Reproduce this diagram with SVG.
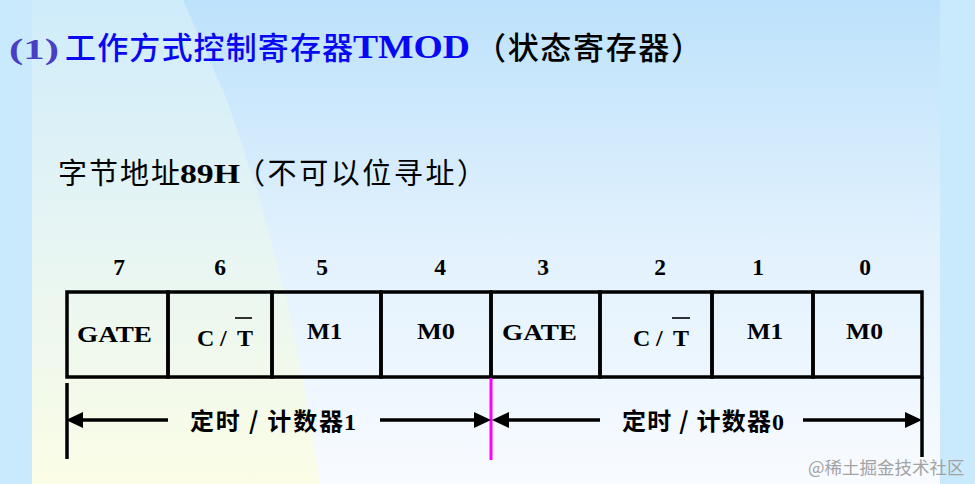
<svg xmlns="http://www.w3.org/2000/svg" width="975" height="484" viewBox="0 0 975 484">
  <style>
    .cjk { font-family: "Noto Sans CJK SC", "Noto Sans", sans-serif; }
    .ser { font-family: "Liberation Serif", "Noto Sans CJK SC", serif; font-weight: bold; }
    .cell { fill: none; stroke: #000; stroke-width: 3.5; }
    .lbl { font-family: "Liberation Serif", serif; font-weight: bold; font-size: 24px; fill: #000; }
    .bit { font-family: "Liberation Serif", serif; font-weight: bold; font-size: 23.5px; fill: #000; text-anchor: middle; }
    .arr { stroke: #000; stroke-width: 3.5; fill: none; }
    .bar { stroke: #000; stroke-width: 3.5; }
    .ov { stroke: #000; stroke-width: 1.6; }
    .al { font-family: "Noto Sans CJK SC", sans-serif; font-weight: bold; font-size: 24px; fill: #000; }
  </style>
  <defs>
    <linearGradient id="gL" x1="0" y1="0" x2="0" y2="1">
      <stop offset="0" stop-color="#cfecfb"/>
      <stop offset="0.5" stop-color="#e7f5f3"/>
      <stop offset="1" stop-color="#fbfde6"/>
    </linearGradient>
    <linearGradient id="gR" x1="0" y1="0" x2="0" y2="1">
      <stop offset="0" stop-color="#bde2fb"/>
      <stop offset="0.5" stop-color="#e1f1fd"/>
      <stop offset="1" stop-color="#f8fbff"/>
    </linearGradient>
    <marker id="ah" markerUnits="userSpaceOnUse" markerWidth="18" markerHeight="17" refX="0" refY="8" orient="auto">
      <path d="M0,0 L17,8 L0,16 z" fill="#000"/>
    </marker>
  </defs>

  <!-- background -->
  <rect x="0" y="0" width="975" height="484" fill="#c9eafd"/>
  <rect x="32" y="0" width="908" height="484" fill="url(#gR)"/>
  <polygon points="32,0 183,0 227,100 260,200 287,300 307,400 320,484 32,484" fill="url(#gL)"/>

  <!-- title -->
  <g id="title">
    <text x="9" y="59" class="ser" font-size="30" fill="#4a3fc4" textLength="50" lengthAdjust="spacingAndGlyphs">(1)</text>
    <text x="65" y="59" class="cjk" font-size="31" font-weight="500" fill="#0808f2" textLength="288" lengthAdjust="spacing">工作方式控制寄存器</text>
    <text x="353" y="58" class="ser" font-size="34" fill="#0808f2" textLength="117" lengthAdjust="spacingAndGlyphs">TMOD</text>
    <text x="475" y="59" class="cjk" font-size="31" font-weight="500" fill="#000" textLength="227" lengthAdjust="spacing">（状态寄存器）</text>
  </g>

  <!-- subtitle -->
  <g id="subtitle">
    <text x="58" y="184" class="cjk" font-size="29" fill="#000" textLength="122" lengthAdjust="spacing">字节地址</text>
    <text x="180" y="183" class="ser" font-size="27" fill="#000" textLength="60" lengthAdjust="spacingAndGlyphs">89H</text>
    <text x="236" y="184" class="cjk" font-size="29" fill="#000" textLength="250" lengthAdjust="spacing">（不可以位寻址）</text>
  </g>

  <!-- bit numbers -->
  <g id="bits">
    <text class="bit" x="119" y="275">7</text>
    <text class="bit" x="220" y="275">6</text>
    <text class="bit" x="322" y="275">5</text>
    <text class="bit" x="440" y="275">4</text>
    <text class="bit" x="543" y="275">3</text>
    <text class="bit" x="660" y="275">2</text>
    <text class="bit" x="758" y="275">1</text>
    <text class="bit" x="865" y="275">0</text>
  </g>

  <!-- register cells -->
  <g id="cell-b7">
    <rect class="cell" x="67" y="292" width="101" height="85"/>
    <text class="lbl" x="77" y="342" textLength="75" lengthAdjust="spacingAndGlyphs">GATE</text>
  </g>
  <g id="cell-b6">
    <rect class="cell" x="168" y="292" width="104" height="85"/>
    <text class="lbl" x="197" y="346">C</text>
    <text class="lbl" x="220" y="346">/</text>
    <text class="lbl" x="237" y="346">T</text>
    <line class="ov" x1="235" y1="318" x2="252" y2="318"/>
  </g>
  <g id="cell-b5">
    <rect class="cell" x="272" y="292" width="109" height="85"/>
    <text class="lbl" x="307" y="339" textLength="35" lengthAdjust="spacingAndGlyphs">M1</text>
  </g>
  <g id="cell-b4">
    <rect class="cell" x="381" y="292" width="110" height="85"/>
    <text class="lbl" x="417" y="339" textLength="38" lengthAdjust="spacingAndGlyphs">M0</text>
  </g>
  <g id="cell-b3">
    <rect class="cell" x="491" y="292" width="109" height="85"/>
    <text class="lbl" x="502" y="340" textLength="75" lengthAdjust="spacingAndGlyphs">GATE</text>
  </g>
  <g id="cell-b2">
    <rect class="cell" x="600" y="292" width="112" height="85"/>
    <text class="lbl" x="633" y="346">C</text>
    <text class="lbl" x="656" y="346">/</text>
    <text class="lbl" x="673" y="346">T</text>
    <line class="ov" x1="672" y1="318" x2="690" y2="318"/>
  </g>
  <g id="cell-b1">
    <rect class="cell" x="712" y="292" width="101" height="85"/>
    <text class="lbl" x="747" y="339" textLength="36" lengthAdjust="spacingAndGlyphs">M1</text>
  </g>
  <g id="cell-b0">
    <rect class="cell" x="813" y="292" width="109" height="85"/>
    <text class="lbl" x="846" y="339" textLength="37" lengthAdjust="spacingAndGlyphs">M0</text>
  </g>

  <!-- timer labels -->
  <g id="timer1-label">
    <text class="al" x="190" y="430" textLength="153" lengthAdjust="spacing">定时 / 计数器</text>
    <text class="ser" x="344" y="430" font-size="24" fill="#000">1</text>
  </g>
  <g id="timer0-label">
    <text class="al" x="622" y="430" textLength="149" lengthAdjust="spacing">定时 / 计数器</text>
    <text class="ser" x="772" y="430" font-size="24" fill="#000">0</text>
  </g>

  <!-- connectors -->
  <g id="connectors">
    <line class="bar" x1="67" y1="383" x2="67" y2="459"/>
    <line class="bar" x1="922" y1="377" x2="922" y2="457"/>
    <line x1="491" y1="378" x2="491" y2="460" stroke="#ff00ff" stroke-width="3"/>
    <line class="arr" x1="168" y1="420" x2="83" y2="420" marker-end="url(#ah)"/>
    <line class="arr" x1="380" y1="420" x2="474" y2="420" marker-end="url(#ah)"/>
    <line class="arr" x1="600" y1="420" x2="509" y2="420" marker-end="url(#ah)"/>
    <line class="arr" x1="803" y1="420" x2="905" y2="420" marker-end="url(#ah)"/>
  </g>

  <!-- watermark -->
  <text x="808" y="474" class="cjk" font-size="17.5" fill="#a3a3a3">@稀土掘金技术社区</text>
</svg>
